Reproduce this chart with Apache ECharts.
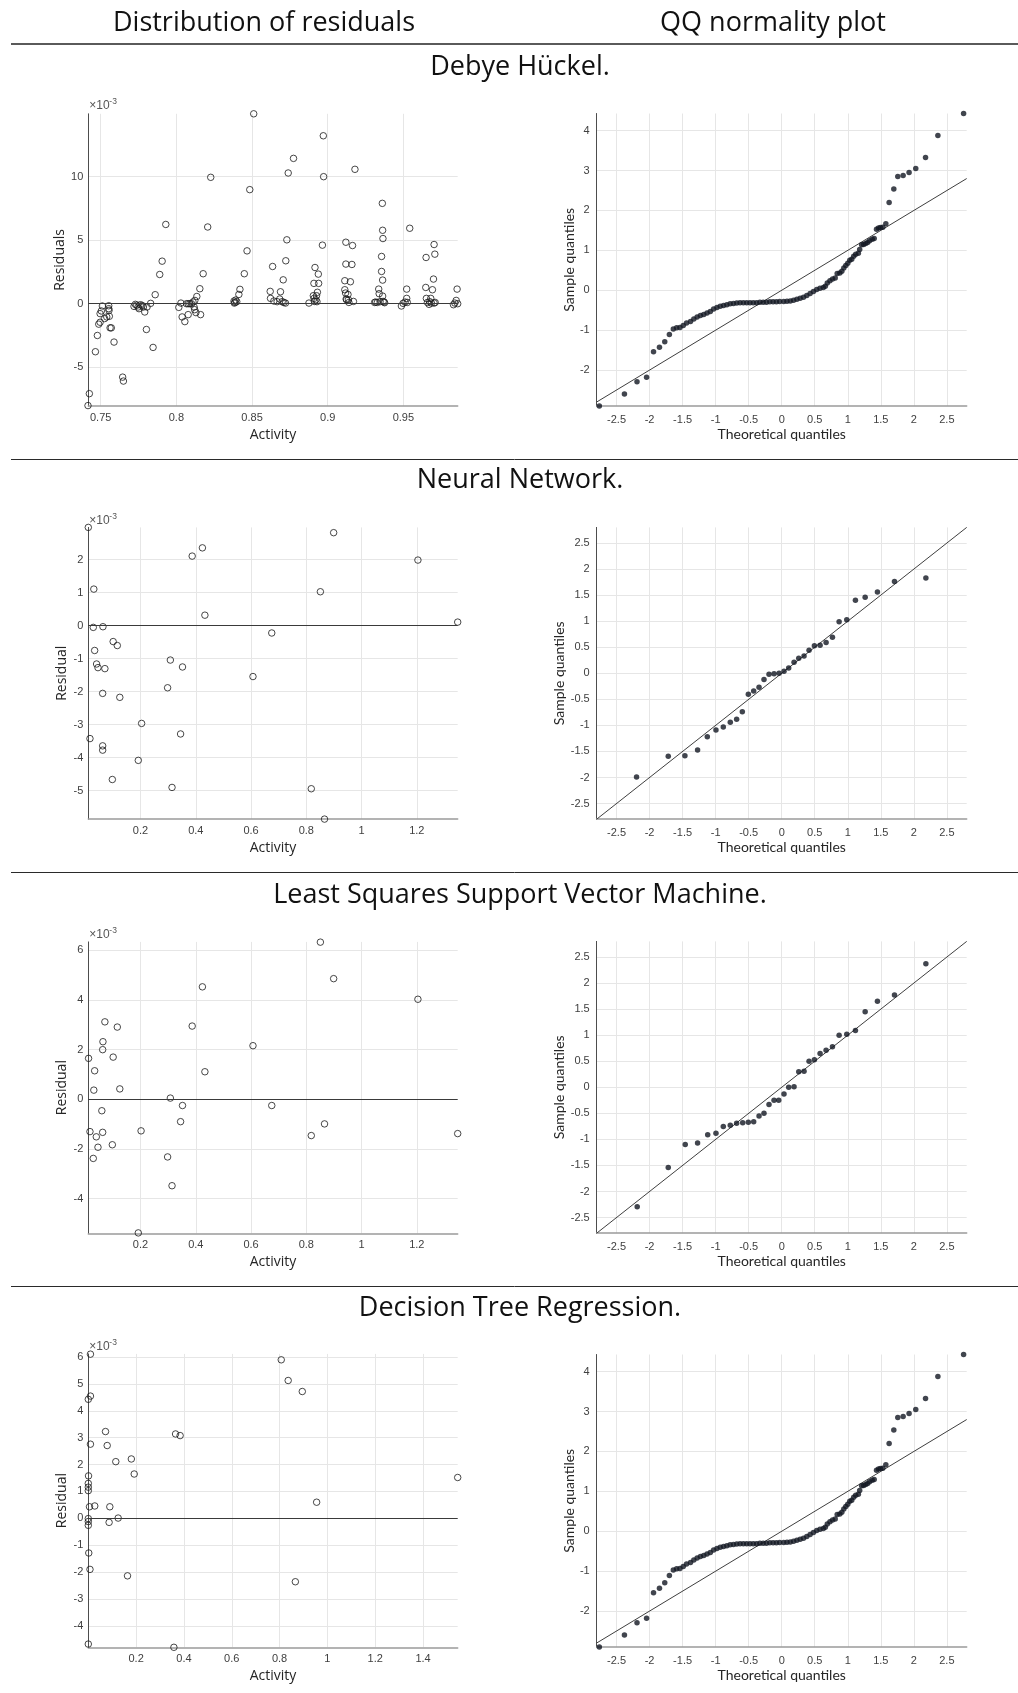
<!DOCTYPE html>
<html>
<head>
<meta charset="utf-8">
<title>Residual diagnostics</title>
<script src="https://cdn.jsdelivr.net/npm/echarts@6/dist/echarts.min.js"></script>
<style>
  html, body { margin: 0; padding: 0; background: #ffffff; }
  #chart { width: 1018px; height: 1693px; }
</style>
</head>
<body>
<div id="chart"></div>
<script>
// ---------------------------------------------------------------------------
// Residuals are stored in units of 1e-3 (the axes carry a ×10^-3 multiplier).
// Each point is [activity, residual].
// ---------------------------------------------------------------------------
const dhResidual = [
  [0.7416,-8.02],[0.7425,-7.08],[0.7465,-3.78],[0.7478,-2.50],[0.7487,-1.61],[0.7496,-1.46],
  [0.7496,-0.78],[0.7504,-0.57],[0.7511,-0.18],[0.7526,-1.17],[0.7540,-1.04],[0.7553,-0.16],
  [0.7553,-0.39],[0.7555,-0.52],[0.7557,-0.99],[0.7562,-1.90],[0.7570,-1.90],[0.7588,-3.02],
  [0.7645,-5.78],[0.7650,-6.09],
  [0.7720,-0.21],[0.7729,-0.05],[0.7738,-0.12],[0.7747,-0.26],[0.7753,-0.39],[0.7762,-0.08],
  [0.7773,-0.13],[0.7782,-0.26],[0.7791,-0.65],[0.7806,-0.26],[0.7830,0.03],[0.7802,-2.03],
  [0.7846,-3.44],[0.7860,0.71],[0.7890,2.30],[0.7906,3.35],[0.7930,6.24],
  [0.8016,-0.29],[0.8030,0.05],[0.8038,-1.04],[0.8056,-1.41],[0.8067,0.00],[0.8078,0.00],
  [0.8089,0.00],[0.8100,0.00],[0.8078,-0.86],[0.8110,0.13],[0.8117,-0.26],[0.8121,-0.47],
  [0.8129,-0.70],[0.8122,0.26],[0.8135,0.57],[0.8155,1.18],[0.8160,-0.86],[0.8177,2.36],
  [0.8207,6.04],[0.8227,9.95],
  [0.8381,0.21],[0.8388,0.10],[0.8392,0.29],[0.8399,0.16],[0.8383,0.05],[0.8413,0.73],
  [0.8420,1.13],[0.8449,2.36],[0.8467,4.16],[0.8485,8.98],[0.8511,14.95],
  [0.8620,0.97],[0.8622,0.42],[0.8636,2.93],[0.8644,0.21],[0.8666,0.16],[0.8683,0.37],
  [0.8688,0.94],[0.8699,0.16],[0.8706,1.88],[0.8710,0.10],[0.8721,0.05],[0.8723,3.38],
  [0.8730,5.03],[0.8739,10.29],[0.8774,11.44],
  [0.8876,0.05],[0.8905,0.63],[0.8910,0.42],[0.8912,0.18],[0.8909,1.60],[0.8916,2.85],
  [0.8922,0.31],[0.8926,0.63],[0.8929,0.16],[0.8932,0.90],[0.8938,2.33],[0.8940,1.60],
  [0.8965,4.61],[0.8971,13.22],[0.8973,10.00],
  [0.9113,1.81],[0.9120,4.84],[0.9120,3.12],[0.9113,1.10],[0.9118,0.84],[0.9122,0.37],
  [0.9125,0.31],[0.9134,0.73],[0.9137,0.31],[0.9140,0.10],[0.9150,1.73],[0.9160,3.09],
  [0.9164,4.58],[0.9170,0.18],[0.9180,10.58],
  [0.9310,0.10],[0.9317,0.13],[0.9328,0.10],[0.9337,1.15],[0.9340,0.79],[0.9346,0.16],
  [0.9356,3.72],[0.9356,2.54],[0.9361,7.90],[0.9363,5.78],[0.9363,1.86],[0.9363,0.60],
  [0.9365,5.13],[0.9366,0.18],[0.9372,0.13],[0.9376,0.08],
  [0.9487,-0.18],[0.9498,0.03],[0.9511,0.13],[0.9522,0.42],[0.9522,1.15],[0.9526,0.10],
  [0.9542,5.94],
  [0.9650,3.64],[0.9648,1.28],[0.9652,0.42],[0.9659,0.10],[0.9670,-0.05],[0.9674,0.16],
  [0.9681,0.42],[0.9685,0.05],[0.9692,1.10],[0.9699,1.94],[0.9703,4.66],[0.9708,3.90],
  [0.9703,0.05],[0.9710,0.10],
  [0.9831,-0.08],[0.9840,0.05],[0.9849,0.26],[0.9855,1.15],[0.9859,0.00]
];

const nnResidual = [
  [0.011,2.98],[0.031,1.11],[0.029,-0.05],[0.064,-0.03],[0.034,-0.75],[0.041,-1.16],
  [0.046,-1.27],[0.071,-1.30],[0.101,-0.48],[0.116,-0.60],[0.063,-2.05],[0.125,-2.17],
  [0.017,-3.42],[0.063,-3.64],[0.063,-3.77],[0.098,-4.66],[0.192,-4.08],[0.204,-2.96],
  [0.298,-1.88],[0.308,-1.04],[0.314,-4.90],[0.345,-3.28],[0.352,-1.25],[0.387,2.11],
  [0.424,2.36],[0.433,0.32],[0.607,-1.54],[0.675,-0.22],[0.818,-4.94],[0.866,-5.86],
  [0.851,1.03],[0.899,2.82],[1.204,1.99],[1.348,0.11]
];

const lsResidual = [
  [0.012,1.65],[0.017,-1.30],[0.029,-2.38],[0.031,0.37],[0.034,1.15],[0.040,-1.51],
  [0.046,-1.93],[0.060,-0.46],[0.063,2.00],[0.064,2.32],[0.063,-1.33],[0.071,3.12],
  [0.098,-1.83],[0.101,1.70],[0.116,2.91],[0.125,0.42],[0.192,-5.38],[0.202,-1.27],
  [0.298,-2.32],[0.308,0.05],[0.314,-3.48],[0.345,-0.90],[0.352,-0.25],[0.387,2.95],
  [0.424,4.53],[0.433,1.11],[0.607,2.16],[0.675,-0.25],[0.818,-1.46],[0.866,-0.99],
  [0.851,6.33],[0.899,4.86],[1.204,4.03],[1.348,-1.38]
];

const dtResidual = [
  [0.009,6.11],[0.000,4.43],[0.009,4.55],[0.009,2.76],[0.001,1.58],[0.000,1.30],
  [0.000,1.16],[0.000,1.03],[0.005,0.43],[0.027,0.46],[0.000,-0.01],[0.000,-0.12],
  [0.000,-0.26],[0.002,-1.29],[0.007,-1.90],[0.000,-4.68],[0.072,3.23],[0.079,2.71],
  [0.090,0.43],[0.087,-0.15],[0.115,2.11],[0.125,0.01],[0.164,-2.14],[0.180,2.21],
  [0.192,1.65],[0.358,-4.80],[0.365,3.14],[0.384,3.08],[0.807,5.90],[0.836,5.13],
  [0.895,4.72],[0.866,-2.36],[0.955,0.60],[1.545,1.52]
];

// QQ points: [theoretical quantile, standardised sample quantile]
const dhQQ = [
  [-2.76,-2.90],[-2.38,-2.60],[-2.19,-2.29],[-2.045,-2.18],
  [-1.94,-1.54],[-1.85,-1.43],[-1.77,-1.29],[-1.70,-1.11],[-1.64,-0.97],[-1.59,-0.94],
  [-1.54,-0.93],[-1.49,-0.88],[-1.44,-0.82],[-1.38,-0.78],[-1.33,-0.72],[-1.28,-0.67],
  [-1.23,-0.63],[-1.18,-0.61],[-1.13,-0.57],[-1.08,-0.53],[-1.03,-0.47],[-0.98,-0.43],
  [-0.93,-0.40],[-0.88,-0.38],[-0.83,-0.36],[-0.78,-0.34],[-0.73,-0.33],[-0.68,-0.32],
  [-0.63,-0.31],[-0.58,-0.31],[-0.53,-0.31],[-0.48,-0.31],[-0.43,-0.31],[-0.38,-0.31],
  [-0.33,-0.30],[-0.28,-0.30],[-0.23,-0.30],[-0.18,-0.29],[-0.13,-0.29],[-0.08,-0.29],
  [-0.03,-0.28],[0.03,-0.28],[0.08,-0.275],[0.13,-0.27],[0.18,-0.25],[0.23,-0.225],
  [0.28,-0.20],[0.33,-0.175],[0.38,-0.13],[0.43,-0.08],[0.48,-0.03],[0.53,0.02],
  [0.58,0.05],[0.63,0.07],[0.66,0.10],[0.69,0.18],[0.73,0.24],[0.77,0.28],[0.81,0.31],
  [0.84,0.42],[0.88,0.43],[0.91,0.475],[0.94,0.56],[0.97,0.62],[1.00,0.68],[1.03,0.75],
  [1.06,0.78],[1.09,0.85],[1.12,0.90],[1.16,0.93],[1.18,1.02],[1.21,1.14],[1.24,1.15],
  [1.27,1.17],[1.30,1.20],[1.33,1.24],[1.37,1.28],[1.40,1.30],[1.435,1.53],[1.465,1.56],
  [1.495,1.575],[1.53,1.58],[1.576,1.67],[1.626,2.20],[1.697,2.54],[1.757,2.85],
  [1.838,2.875],[1.928,2.95],[2.029,3.05],[2.177,3.33],[2.364,3.88],[2.753,4.43]
];

const nnQQ = [
  [-2.197,-1.99],[-1.717,-1.59],[-1.465,-1.58],[-1.273,-1.47],[-1.126,-1.22],[-0.995,-1.09],
  [-0.884,-1.03],[-0.778,-0.94],[-0.682,-0.88],[-0.596,-0.74],[-0.505,-0.40],[-0.424,-0.34],
  [-0.343,-0.27],[-0.268,-0.12],[-0.192,-0.02],[-0.116,-0.01],[-0.040,0.00],[0.035,0.04],
  [0.106,0.10],[0.187,0.21],[0.258,0.29],[0.338,0.33],[0.414,0.44],[0.495,0.53],
  [0.581,0.54],[0.672,0.59],[0.768,0.69],[0.869,0.99],[0.985,1.03],[1.116,1.40],
  [1.263,1.46],[1.449,1.56],[1.707,1.76],[2.182,1.83]
];

const lsQQ = [
  [-2.187,-2.29],[-1.717,-1.54],[-1.460,-1.10],[-1.273,-1.07],[-1.120,-0.91],[-0.995,-0.88],
  [-0.884,-0.75],[-0.778,-0.73],[-0.682,-0.69],[-0.590,-0.68],[-0.505,-0.67],[-0.424,-0.66],
  [-0.343,-0.55],[-0.268,-0.50],[-0.192,-0.33],[-0.116,-0.25],[-0.045,-0.25],[0.035,-0.13],
  [0.106,0.00],[0.187,0.01],[0.258,0.30],[0.338,0.31],[0.414,0.50],[0.495,0.53],
  [0.581,0.65],[0.672,0.71],[0.768,0.78],[0.869,1.00],[0.985,1.02],[1.116,1.09],
  [1.263,1.45],[1.449,1.65],[1.707,1.77],[2.182,2.37]
];

// the decision-tree panel shows the same quantile set as the Debye–Hückel one
const dtQQ = dhQQ;

// y = x reference line for the normality plots
const qqReference = [[-2.8,-2.8],[2.8,2.8]];

// text
const columnHeads = ['Distribution of residuals', 'QQ normality plot'];
const modelNames = ['Debye Hückel.', 'Neural Network.', 'Least Squares Support Vector Machine.', 'Decision Tree Regression.'];

// ---------------------------------------------------------------------------
// Panel layout
// ---------------------------------------------------------------------------
const LEFT_X = 88.3, LEFT_W = 369.4;
const RIGHT_X = 596.7, RIGHT_W = 370;

const panels = [
  { kind: 'res', top: 113.8, height: 292.3, x: [0.7418, 0.9859, 0.05], y: [-8.06, 14.95, 5], data: dhResidual, yName: 'Residuals' },
  { kind: 'qq',  top: 113.5, height: 292.5, x: [-2.8, 2.8, 0.5], y: [-2.9, 4.43, 1], data: dhQQ },
  { kind: 'res', top: 527.4, height: 291.7, x: [0.011, 1.348, 0.2], y: [-5.86, 2.98, 1], data: nnResidual, yName: 'Residual' },
  { kind: 'qq',  top: 527.4, height: 291.8, x: [-2.8, 2.8, 0.5], y: [-2.8, 2.8, 0.5], data: nnQQ },
  { kind: 'res', top: 941.9, height: 291.5, x: [0.011, 1.348, 0.2], y: [-5.40, 6.34, 2], data: lsResidual, yName: 'Residual' },
  { kind: 'qq',  top: 941.4, height: 291.8, x: [-2.8, 2.8, 0.5], y: [-2.8, 2.8, 0.5], data: lsQQ },
  { kind: 'res', top: 1353.9, height: 293.4, x: [0, 1.545, 0.2], y: [-4.80, 6.12, 1], data: dtResidual, yName: 'Residual' },
  { kind: 'qq',  top: 1354.5, height: 292.5, x: [-2.8, 2.8, 0.5], y: [-2.9, 4.43, 1], data: dtQQ }
];

const TICK_FONT = '"Liberation Sans", Arial, Helvetica, sans-serif';
const RES_NAME_FONT = '"Open Sans", "Noto Sans", sans-serif';
const QQ_NAME_FONT = 'Lato, "Open Sans", sans-serif';
const HEAD_FONT = '"Open Sans", "Noto Sans", sans-serif';

function valueAxis(gridIndex, range, isX, name, nameGap, nameFont, labelMargin) {
  return {
    type: 'value',
    gridIndex: gridIndex,
    min: range[0],
    max: range[1],
    minInterval: range[2],
    maxInterval: range[2],
    splitNumber: 8,
    name: name,
    nameLocation: 'middle',
    nameGap: nameGap,
    nameTextStyle: { fontFamily: nameFont, fontSize: 14, color: '#262626' },
    axisLine: {
      show: true,
      onZero: false,
      lineStyle: isX ? { color: '#9a9a9a', width: 1.5 } : { color: '#4d4d4d', width: 1 }
    },
    axisTick: { show: false },
    axisLabel: {
      showMinLabel: false,
      showMaxLabel: false,
      fontFamily: TICK_FONT,
      fontSize: 11,
      color: '#404040',
      margin: labelMargin
    },
    splitLine: {
      show: true,
      showMinLine: false,
      showMaxLine: false,
      lineStyle: { color: '#e6e6e6', width: 1 }
    }
  };
}

const grids = [], xAxes = [], yAxes = [], series = [], graphics = [];

panels.forEach(function (p, i) {
  const isRes = p.kind === 'res';
  grids.push({
    left: isRes ? LEFT_X : RIGHT_X,
    top: p.top,
    width: isRes ? LEFT_W : RIGHT_W,
    height: p.height,
    containLabel: false
  });
  if (isRes) {
    xAxes.push(valueAxis(i, p.x, true, 'Activity', 22, RES_NAME_FONT, 6));
    yAxes.push(valueAxis(i, p.y, false, p.yName, 19, RES_NAME_FONT, 5));
    series.push({
      type: 'scatter',
      xAxisIndex: i,
      yAxisIndex: i,
      data: p.data,
      symbol: 'circle',
      symbolSize: 6.5,
      itemStyle: { color: 'rgba(255,255,255,0)', borderColor: '#1a1a1a', borderWidth: 1 },
      clip: false,
      z: 3,
      markLine: {
        silent: true,
        symbol: 'none',
        label: { show: false },
        lineStyle: { color: '#3a3a3a', width: 1, type: 'solid' },
        data: [{ yAxis: 0 }]
      }
    });
    // ×10^-3 multiplier above the value axis
    const yMid = p.top - (i === 0 ? 8.5 : 7);
    graphics.push({
      type: 'text', x: LEFT_X + 1, y: yMid,
      style: { text: '×10', fontFamily: TICK_FONT, fontSize: 12, fill: '#555555', align: 'left', verticalAlign: 'middle' }
    });
    graphics.push({
      type: 'text', x: LEFT_X + 21, y: yMid - 4,
      style: { text: '-3', fontFamily: TICK_FONT, fontSize: 8.5, fill: '#555555', align: 'left', verticalAlign: 'middle' }
    });
  } else {
    xAxes.push(valueAxis(i, p.x, true, 'Theoretical quantiles', 21, QQ_NAME_FONT, 8));
    yAxes.push(valueAxis(i, p.y, false, 'Sample quantiles', 18, QQ_NAME_FONT, 7));
    series.push({
      type: 'line',
      xAxisIndex: i,
      yAxisIndex: i,
      data: qqReference,
      showSymbol: false,
      symbol: 'none',
      lineStyle: { color: '#3f3f3f', width: 1 },
      z: 2
    });
    series.push({
      type: 'scatter',
      xAxisIndex: i,
      yAxisIndex: i,
      data: p.data,
      symbol: 'circle',
      symbolSize: 5.5,
      itemStyle: { color: '#111722' },
      clip: false,
      z: 3
    });
  }
});

// column heads, rules and model titles
graphics.push({
  type: 'text', x: 264, y: 23,
  style: { text: columnHeads[0], fontFamily: HEAD_FONT, fontSize: 27, fill: '#111111', align: 'center', verticalAlign: 'middle' }
});
graphics.push({
  type: 'text', x: 773, y: 23,
  style: { text: columnHeads[1], fontFamily: HEAD_FONT, fontSize: 27, fill: '#111111', align: 'center', verticalAlign: 'middle' }
});
graphics.push({
  type: 'line', shape: { x1: 11, y1: 44, x2: 1018, y2: 44 },
  style: { stroke: '#5a5a5a', lineWidth: 2 }
});
const titleY = [67, 480, 895, 1308];
const ruleY = [459, 872, 1286];
modelNames.forEach(function (t, k) {
  graphics.push({
    type: 'text', x: 520, y: titleY[k],
    style: { text: t, fontFamily: HEAD_FONT, fontSize: 27, fill: '#111111', align: 'center', verticalAlign: 'middle' }
  });
});
ruleY.forEach(function (y) {
  graphics.push({
    type: 'line', shape: { x1: 11, y1: y + 0.5, x2: 1018, y2: y + 0.5 },
    style: { stroke: '#2a2a2a', lineWidth: 1 }
  });
});

const chart = echarts.init(document.getElementById('chart'), null, { renderer: 'canvas' });
chart.setOption({
  animation: false,
  backgroundColor: '#ffffff',
  grid: grids,
  xAxis: xAxes,
  yAxis: yAxes,
  series: series,
  graphic: graphics
});
</script>
</body>
</html>
